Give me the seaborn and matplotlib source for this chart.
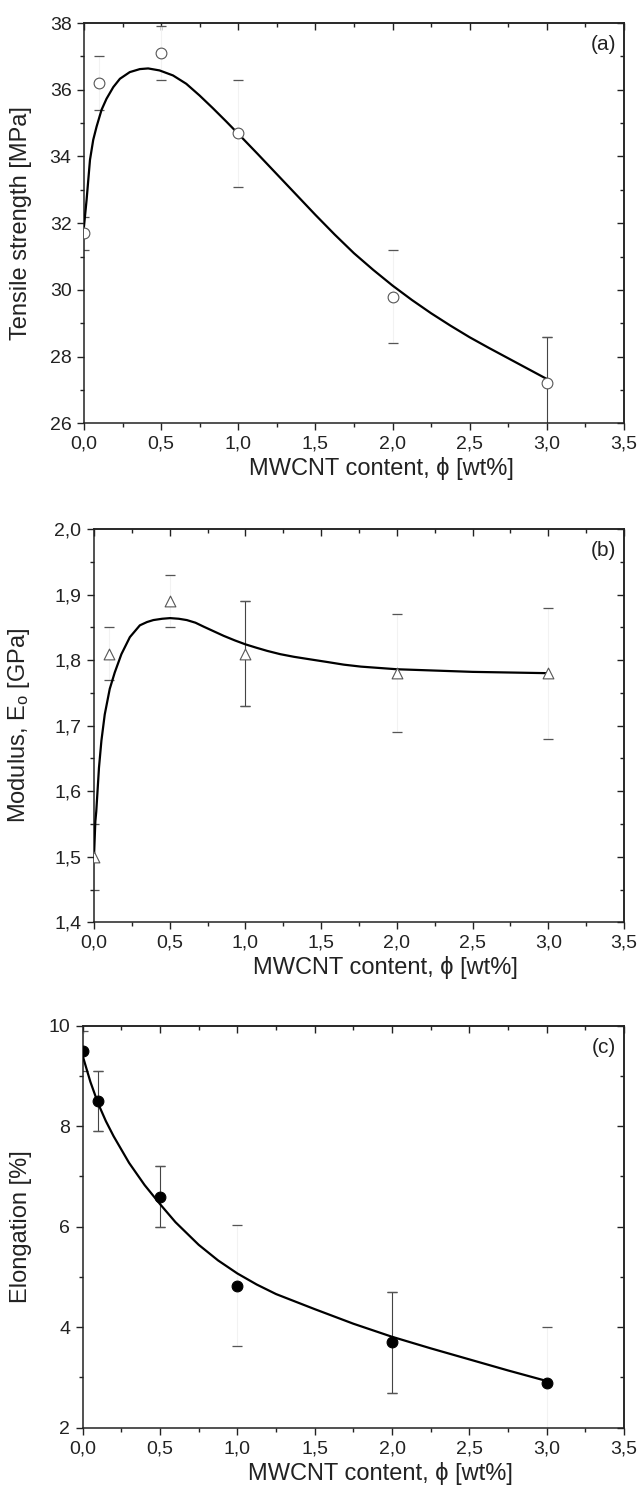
import matplotlib
matplotlib.use("Agg")
import matplotlib.pyplot as plt
import seaborn as sns
import pandas as pd
from matplotlib.ticker import MultipleLocator, AutoMinorLocator, FuncFormatter

# Data
x_pts = [0.0, 0.1, 0.5, 1.0, 2.0, 3.0]

tensile = [31.7, 36.2, 37.1, 34.7, 29.8, 27.2]
tensile_err = [0.5, 0.8, 0.8, 1.6, 1.4, 1.4]
tensile_fit_x = [0.0, 0.017, 0.039, 0.06, 0.082, 0.114, 0.146, 0.19, 0.233, 0.297, 0.362, 0.416,
                 0.49, 0.577, 0.663, 0.749, 0.835, 0.922, 1.0, 1.125, 1.25, 1.375, 1.5, 1.625,
                 1.75, 1.875, 2.0, 2.125, 2.25, 2.375, 2.5, 2.625, 2.75, 2.875, 3.0]
tensile_fit_y = [31.9, 32.7, 33.9, 34.5, 34.9, 35.4, 35.73, 36.08, 36.33, 36.53, 36.62, 36.64,
                 36.58, 36.43, 36.18, 35.83, 35.45, 35.05, 34.68, 34.08, 33.47, 32.86, 32.25, 31.66,
                 31.1, 30.6, 30.13, 29.7, 29.3, 28.93, 28.58, 28.26, 27.95, 27.64, 27.33]

modulus = [1.50, 1.81, 1.89, 1.81, 1.78, 1.78]
modulus_err = [0.05, 0.04, 0.04, 0.08, 0.09, 0.10]
modulus_fit_x = [0.0, 0.009, 0.015, 0.033, 0.049, 0.071, 0.104, 0.137, 0.181, 0.237, 0.303, 0.35,
                 0.392, 0.45, 0.503, 0.56, 0.613, 0.67, 0.724, 0.79, 0.856, 0.93, 1.0, 1.07, 1.144,
                 1.23, 1.32, 1.43, 1.542, 1.65, 1.763, 2.0, 2.25, 2.5, 2.75, 3.0]
modulus_fit_y = [1.50, 1.554, 1.569, 1.636, 1.677, 1.717, 1.756, 1.781, 1.809, 1.835, 1.853, 1.858,
                 1.861, 1.863, 1.864, 1.863, 1.861, 1.857, 1.851, 1.844, 1.837, 1.830, 1.824, 1.819,
                 1.814, 1.809, 1.805, 1.801, 1.797, 1.793, 1.790, 1.786, 1.784, 1.782, 1.781, 1.780]

elong = [9.5, 8.5, 6.6, 4.83, 3.7, 2.9]
elong_err = [0.4, 0.6, 0.6, 1.2, 1.0, 1.1]
elong_fit_x = [0.0, 0.05, 0.1, 0.15, 0.2, 0.3, 0.4, 0.5, 0.6, 0.75, 0.875, 1.0, 1.125, 1.25,
               1.5, 1.75, 2.0, 2.25, 2.5, 2.75, 3.0]
elong_fit_y = [9.40, 8.88, 8.45, 8.10, 7.80, 7.27, 6.83, 6.45, 6.09, 5.64, 5.33, 5.07, 4.85, 4.66,
               4.36, 4.07, 3.81, 3.58, 3.36, 3.14, 2.93]

# which error-bar stems are clearly printed (the others are almost invisible in the scan)
stem_a = [False, False, False, False, False, True]
stem_b = [False, False, False, True, False, False]
stem_c = [False, True, True, False, True, False]

x_label = "MWCNT content, \u03d5 [wt%]"

sns.set_theme(style="ticks")
plt.rcParams['font.family'] = ['Liberation Sans', 'DejaVu Sans']
plt.rcParams['mathtext.default'] = 'regular'

fig = plt.figure(figsize=(6.42, 14.98), dpi=100)

comma = FuncFormatter(lambda v, p: f"{v:.1f}".replace('.', ','))
whole = FuncFormatter(lambda v, p: f"{v:.0f}")
ink = '#222222'


def make_panel(rect, y, err, stems, fit_x, fit_y, ylim, ystep, ylabel, tag, marker, face, yfmt):
    ax = fig.add_axes(rect)
    pts = pd.DataFrame({'x': x_pts, 'y': y, 'err': err, 'stem': stems})
    fit = pd.DataFrame({'x': fit_x, 'y': fit_y})

    for _, r in pts.iterrows():
        ax.errorbar(r['x'], r['y'], yerr=r['err'], fmt='none',
                    ecolor='#444444' if r['stem'] else '#f2f2f2',
                    elinewidth=0.8, capsize=3.5, capthick=0.9, zorder=2)
        # caps stay visible even where the stems fade
        ax.errorbar(r['x'], r['y'], yerr=r['err'], fmt='none', ecolor='#555555',
                    elinewidth=0, capsize=3.5, capthick=0.9, zorder=2)

    sns.lineplot(data=fit, x='x', y='y', ax=ax, color='black', lw=1.6, sort=False, zorder=3)
    sns.scatterplot(data=pts, x='x', y='y', ax=ax, marker=marker, s=60,
                    facecolor=face, edgecolor='#555555' if face == 'white' else 'black',
                    linewidth=0.8, zorder=4)

    ax.set_xlim(0, 3.5)
    ax.set_ylim(*ylim)
    ax.xaxis.set_major_locator(MultipleLocator(0.5))
    ax.xaxis.set_minor_locator(AutoMinorLocator(2))
    ax.yaxis.set_major_locator(MultipleLocator(ystep))
    ax.yaxis.set_minor_locator(AutoMinorLocator(2))
    ax.xaxis.set_major_formatter(comma)
    ax.yaxis.set_major_formatter(yfmt)
    ax.tick_params(which='major', direction='out', length=5, width=1, labelsize=14,
                   pad=4, colors=ink)
    ax.tick_params(which='minor', direction='out', length=3, width=1, colors=ink)

    # mirrored inward ticks on top and right
    top = ax.secondary_xaxis('top')
    top.xaxis.set_major_locator(MultipleLocator(0.5))
    top.xaxis.set_minor_locator(AutoMinorLocator(2))
    top.tick_params(which='major', direction='in', length=5, width=1, labeltop=False, colors=ink)
    top.tick_params(which='minor', direction='in', length=3, width=1, colors=ink)
    right = ax.secondary_yaxis('right')
    right.yaxis.set_major_locator(MultipleLocator(ystep))
    right.yaxis.set_minor_locator(AutoMinorLocator(2))
    right.tick_params(which='major', direction='in', length=5, width=1, labelright=False, colors=ink)
    right.tick_params(which='minor', direction='in', length=3, width=1, colors=ink)

    for s in list(ax.spines.values()) + [top.spines['top'], right.spines['right']]:
        s.set_linewidth(1.1)
        s.set_color(ink)

    ax.set_xlabel(x_label, fontsize=17, color=ink)
    ax.xaxis.set_label_coords(0.55, -0.085)
    ax.set_ylabel(ylabel, fontsize=17, color=ink)
    ax.text(0.985, 0.97, tag, transform=ax.transAxes, ha='right', va='top', fontsize=15,
            color=ink)
    return ax


ax_a = make_panel([0.1308, 0.7174, 0.8411, 0.2672], tensile, tensile_err, stem_a,
                  tensile_fit_x, tensile_fit_y, (26, 38), 2, "Tensile strength [MPa]", "(a)",
                  'o', 'white', whole)
ax_b = make_panel([0.1464, 0.3843, 0.8255, 0.2626], modulus, modulus_err, stem_b,
                  modulus_fit_x, modulus_fit_y, (1.4, 2.0), 0.1, "Modulus, E$_o$ [GPa]", "(b)",
                  '^', 'white', comma)
ax_c = make_panel([0.1288, 0.0469, 0.8432, 0.2684], elong, elong_err, stem_c,
                  elong_fit_x, elong_fit_y, (2, 10), 2, "Elongation [%]", "(c)",
                  'o', 'black', whole)

# y labels sit close to the left page edge in the reference (coordinate = right edge of text)
for ax in (ax_a, ax_b, ax_c):
    pos = ax.get_position()
    ax.yaxis.set_label_coords((32 / 642 - pos.x0) / pos.width, 0.5)

fig.savefig("out.png", dpi=100)
